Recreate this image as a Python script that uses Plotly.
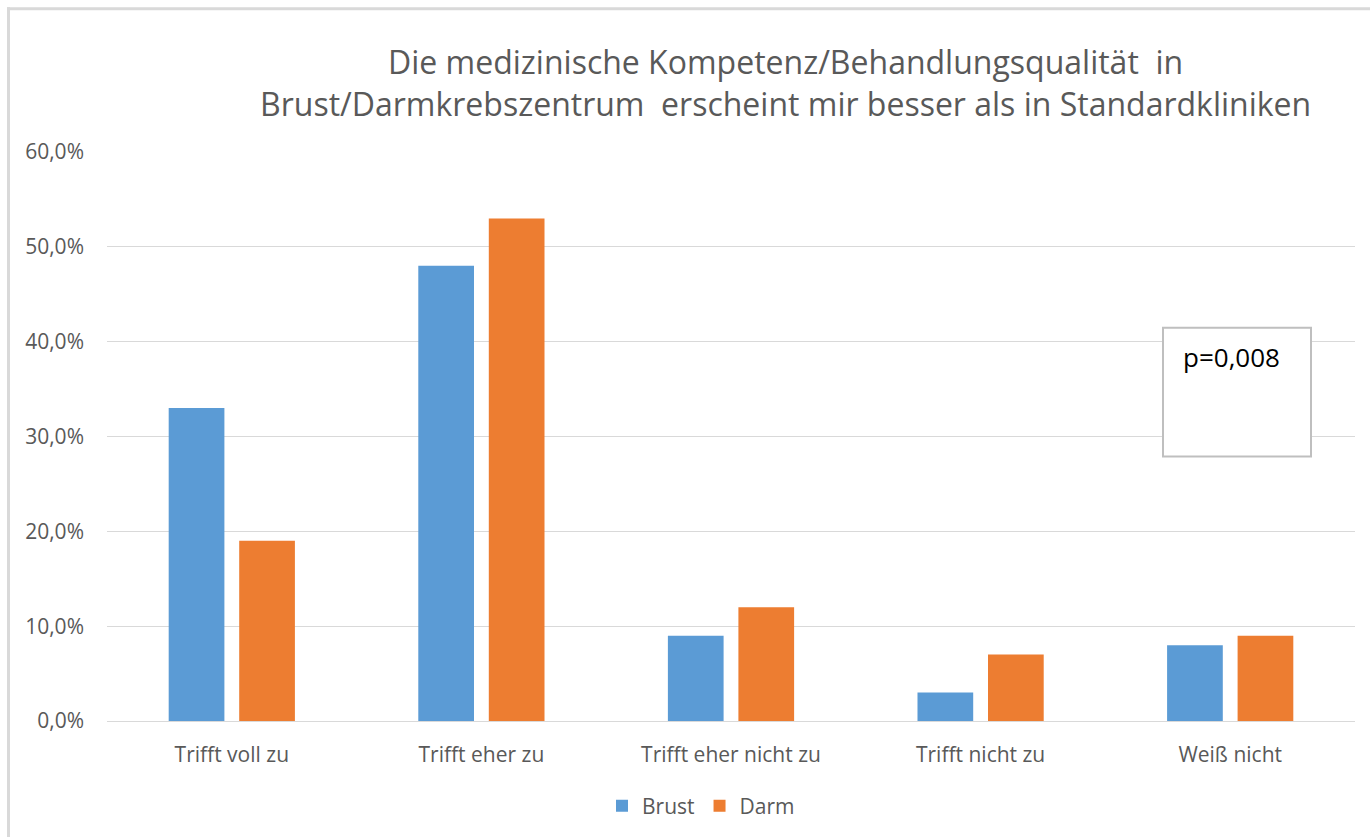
import plotly.graph_objects as go

categories = ["Trifft voll zu", "Trifft eher zu", "Trifft eher nicht zu", "Trifft nicht zu", "Weiß nicht"]
brust = [33, 48, 9, 3, 8]
darm = [19, 53, 12, 7, 9]
y_ticks = [0, 10, 20, 30, 40, 50, 60]
y_tick_text = [f"{v:.1f}".replace(".", ",") + "%" for v in y_ticks]
title_lines = ["Die medizinische Kompetenz/Behandlungsqualität  in",
               "Brust/Darmkrebszentrum  erscheint mir besser als in Standardkliniken"]

W, H = 1370, 837
L, R, T, B = 107, 15, 152, 115
pw = W - L - R
ph = H - T - B

def px_x(p):
    return (p - L) / pw

def px_y(p):
    return (H - B - p) / ph

fig = go.Figure()
fig.add_trace(go.Bar(name="Brust", x=categories, y=brust, marker=dict(color="#5B9BD5", line=dict(width=0))))
fig.add_trace(go.Bar(name="Darm", x=categories, y=darm, marker=dict(color="#ED7D31", line=dict(width=0))))

font_family = "Open Sans, Noto Sans, sans-serif"
grey = "#595959"

fig.update_layout(
    width=W, height=H,
    margin=dict(l=L, r=R, t=T, b=B, pad=0),
    paper_bgcolor="white", plot_bgcolor="white",
    separators=",.",
    barmode="group", bargap=0.435, bargroupgap=0.21,
    font=dict(family=font_family, color=grey),
    xaxis=dict(showgrid=False, showline=False, ticks="", tickfont=dict(size=21, color=grey),
               ticklabelstandoff=19),
    yaxis=dict(range=[0, 60], tickvals=y_ticks, ticktext=y_tick_text,
               showgrid=True, gridcolor="#D9D9D9", gridwidth=1, zeroline=True, zerolinecolor="#D9D9D9",
               zerolinewidth=1, showline=False, ticks="", tickfont=dict(size=21, color=grey),
               ticklabelstandoff=22),
    legend=dict(orientation="h", x=px_x(701), xanchor="center", y=px_y(806), yanchor="middle",
                font=dict(size=21, color=grey), itemwidth=30, traceorder="normal"),
    showlegend=True,
)

# title as annotation (two lines)
fig.add_annotation(text="<br>".join(title_lines), xref="paper", yref="paper",
                   x=px_x(785), y=px_y(82), xanchor="center", yanchor="middle", showarrow=False,
                   align="center", font=dict(size=32, color=grey, family=font_family))

# outer chart border (top & left visible)
fig.add_shape(type="line", xref="paper", yref="paper", x0=px_x(7), x1=px_x(1380), y0=px_y(8.5), y1=px_y(8.5),
              line=dict(color="#D9D9D9", width=3))
fig.add_shape(type="line", xref="paper", yref="paper", x0=px_x(8.5), x1=px_x(8.5), y0=px_y(7), y1=px_y(850),
              line=dict(color="#D9D9D9", width=3))

# p-value box
fig.add_shape(type="rect", xref="paper", yref="paper", x0=px_x(1163), x1=px_x(1311), y0=px_y(457), y1=px_y(328),
              line=dict(color="#BFBFBF", width=2), fillcolor="white", layer="above")
fig.add_annotation(text="p=0,008", xref="paper", yref="paper", x=px_x(1181), y=px_y(357),
                   xanchor="left", yanchor="middle", showarrow=False,
                   font=dict(size=26, color="black", family=font_family))

fig.write_html("out.html", config={"displayModeBar": False},
               post_script="document.body.style.margin='0';document.body.style.overflow='hidden';")
